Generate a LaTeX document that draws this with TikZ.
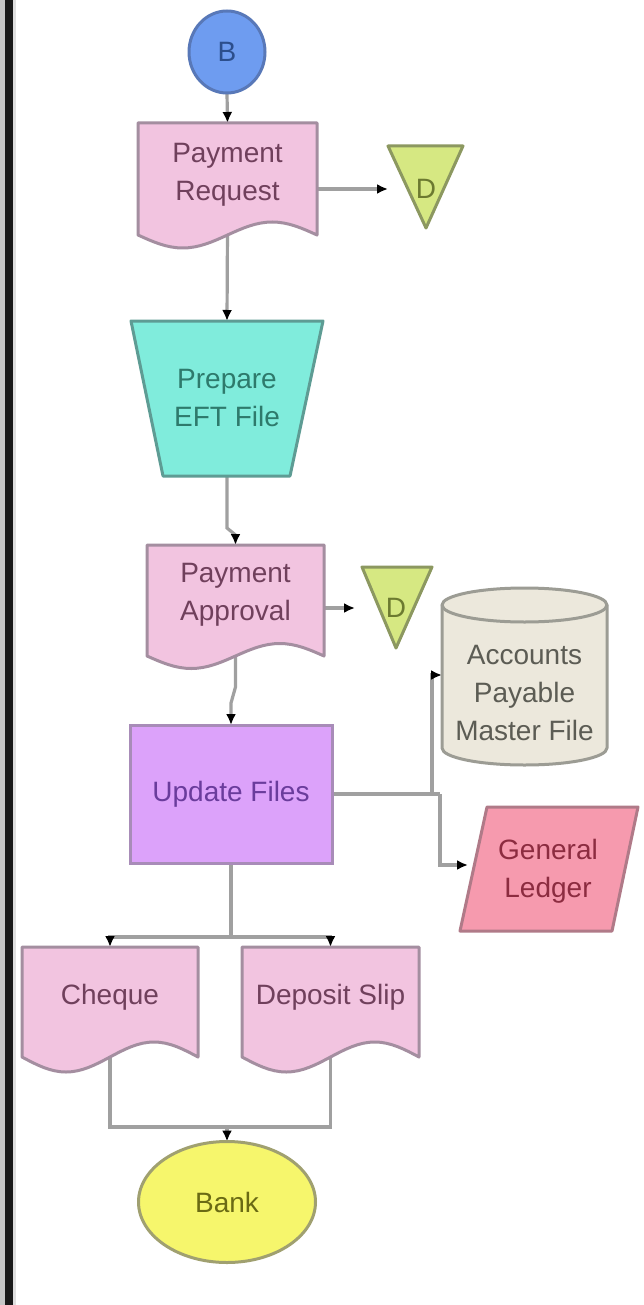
\documentclass[tikz,border=0pt]{standalone}
\usepackage{fontspec}
\setmainfont{Liberation Sans}
\usetikzlibrary{arrows.meta,calc,shapes.geometric}
\definecolor{linec}{HTML}{A0A0A0}
\definecolor{bfill}{HTML}{6E9CF0}\definecolor{bdraw}{HTML}{5878B8}\definecolor{btext}{HTML}{2C4E8C}
\definecolor{docfill}{HTML}{F2C4E0}\definecolor{docdraw}{HTML}{A48EA0}\definecolor{doctext}{HTML}{70405C}
\definecolor{eftfill}{HTML}{80ECDC}\definecolor{eftdraw}{HTML}{5E9C94}\definecolor{efttext}{HTML}{2E7A6C}
\definecolor{trifill}{HTML}{D6E882}\definecolor{tridraw}{HTML}{8C9860}\definecolor{tritext}{HTML}{6C7A30}
\definecolor{uffill}{HTML}{DCA2FA}\definecolor{ufdraw}{HTML}{A88CB8}\definecolor{uftext}{HTML}{6A3C9C}
\definecolor{apfill}{HTML}{ECE8DC}\definecolor{apdraw}{HTML}{9C9C94}\definecolor{aptext}{HTML}{5C5C54}
\definecolor{glfill}{HTML}{F69AAE}\definecolor{gldraw}{HTML}{B07A88}\definecolor{gltext}{HTML}{8C2C40}
\definecolor{bkfill}{HTML}{F6F66C}\definecolor{bkdraw}{HTML}{A0A070}\definecolor{bktext}{HTML}{6A6A14}
\pgfdeclarelayer{bgpaper}
\pgfdeclarelayer{lines}
\pgfdeclarelayer{shapes}
\pgfsetlayers{bgpaper,lines,shapes,main}
\begin{document}
\begin{tikzpicture}[x=1pt,y=-1pt,
  lbl/.style={font=\fontsize{28}{38}\selectfont, align=center, inner sep=0pt, outer sep=0pt},
  holder/.style={lbl, rectangle, minimum width=#1},
  conn/.style={draw=linec, line width=3.2pt, -{Latex[length=11pt,width=10pt,color=black]}},
  plain/.style={draw=linec, line width=3.2pt},
  docshape/.style={fill=docfill, draw=docdraw, line width=3pt, line join=round},
  trishape/.style={fill=trifill, draw=tridraw, line width=3pt, line join=round},
]
\useasboundingbox (0,0) rectangle (644,1305);
\begin{pgfonlayer}{bgpaper}
\fill[white] (0,0) rectangle (644,1305);
% left border
\fill[gray!45] (0,0) rectangle (5,1305);
\fill[black!90] (5,0) rectangle (13,1305);
\fill[gray!25] (13,0) rectangle (16,1305);
\end{pgfonlayer}

% nodes
\node[lbl, ellipse, minimum width=76pt, minimum height=82pt, fill=bfill, draw=bdraw, line width=3pt, text=btext] (b) at (227,52) {B};
\node[holder=179pt, minimum height=104pt, text=doctext] (pr) at (227.5,175) {Payment\\Request};
\node[holder=76pt, minimum height=20pt, text=tritext] (d1) at (426,189) {D};
\node[holder=192pt, minimum height=155pt, text=efttext] (eft) at (227,398.5) {Prepare\\EFT File};
\node[holder=177pt, minimum height=100pt, text=doctext] (pa) at (235.5,595) {Payment\\Approval};
\node[holder=82pt, minimum height=20pt, text=tritext] (d2) at (396,608) {D};
\node[lbl, rectangle, minimum width=202pt, minimum height=138pt, fill=uffill, draw=ufdraw, line width=3pt, text=uftext] (uf) at (231,794) {Update Files};
\node[holder=165pt, minimum height=144pt, text=aptext] (ap) at (524.5,693) {Accounts\\Payable\\Master File};
\node[holder=160pt, minimum height=124pt, text=gltext] (gl) at (548,871) {General\\Ledger};
\node[holder=176pt, minimum height=100pt, text=doctext] (ch) at (110,997) {Cheque};
\node[holder=177pt, minimum height=100pt, text=doctext] (ds) at (330.5,997) {Deposit Slip};
\node[lbl, ellipse, minimum width=177pt, minimum height=121pt, fill=bkfill, draw=bkdraw, line width=3pt, text=bktext] (bank) at (227,1202) {Bank};

% shapes
\begin{pgfonlayer}{shapes}
\draw[docshape] (138,123) -- (317,123) -- (317,235) sin (272.25,222) cos (227.5,235) sin (182.75,248) cos (138,235) -- cycle;
\draw[trishape] (388,146) -- (463,146) -- (426,228) -- cycle;
\draw[fill=eftfill, draw=eftdraw, line width=3pt, line join=round] (131,321) -- (323,321) -- (290,476) -- (163,476) -- cycle;
\draw[docshape] (147,545) -- (324,545) -- (324,656) sin (279.75,643.5) cos (235.5,656) sin (191.25,668.5) cos (147,656) -- cycle;
\draw[trishape] (362,567) -- (432,567) -- (396,648) -- cycle;
\draw[fill=apfill, draw=apdraw, line width=3pt, line join=round]
  (442,605) -- (442,748) .. controls (442,757.4) and (478.9,765) .. (524.5,765)
  .. controls (570.1,765) and (607,757.4) .. (607,748) -- (607,605)
  .. controls (607,595.6) and (570.1,588) .. (524.5,588)
  .. controls (478.9,588) and (442,595.6) .. (442,605) -- cycle;
\draw[draw=apdraw, line width=3pt] (442,605) .. controls (442,614.4) and (478.9,622) .. (524.5,622)
  .. controls (570.1,622) and (607,614.4) .. (607,605);
\draw[fill=glfill, draw=gldraw, line width=3pt, line join=round] (487,807) -- (638,807) -- (612,931) -- (460,931) -- cycle;
\draw[docshape] (22,947) -- (198,947) -- (198,1057) sin (154,1042) cos (110,1057) sin (66,1072) cos (22,1057) -- cycle;
\draw[docshape] (242,947) -- (419,947) -- (419,1057) sin (374.75,1042) cos (330.5,1057) sin (286.25,1072) cos (242,1057) -- cycle;
\end{pgfonlayer}

% connectors
\begin{pgfonlayer}{lines}
\draw[conn] (b.south) -- (pr.north);
\draw[conn] (d1.west -| pr.east) -- (d1.west);
\draw[conn] (pr.south) -- (eft.north);
\draw[conn] (eft.south) -- ++(0,52) -- ($(pa.north)+(0,-10)$) -- (pa.north);
\draw[conn] (d2.west -| pa.east) -- (d2.west);
\draw[conn] (pa.south) -- ++(0,42) -- ($(uf.north)+(0,-22)$) -- (uf.north);
\coordinate (k1) at (432,794);
\coordinate (k2) at (440,794);
\draw[plain] (uf.east) -- (k2);
\draw[conn] (k1) |- ([yshift=18pt]ap.west);
\draw[conn] (k2) |- ([yshift=6pt]gl.west);
\draw[plain] (uf.south) -- ++(0,74) coordinate (sp);
\draw[conn] (sp) -| (ch.north);
\draw[conn] (sp) -| (ds.north);
\path (ch.south) ++(0,80) coordinate (jl);
\draw[plain] (ch.south) -- (jl) -- (jl -| ds.south) -- (ds.south);
\draw[conn] (jl -| bank.north) -- (bank.north);
\end{pgfonlayer}
\end{tikzpicture}
\end{document}
